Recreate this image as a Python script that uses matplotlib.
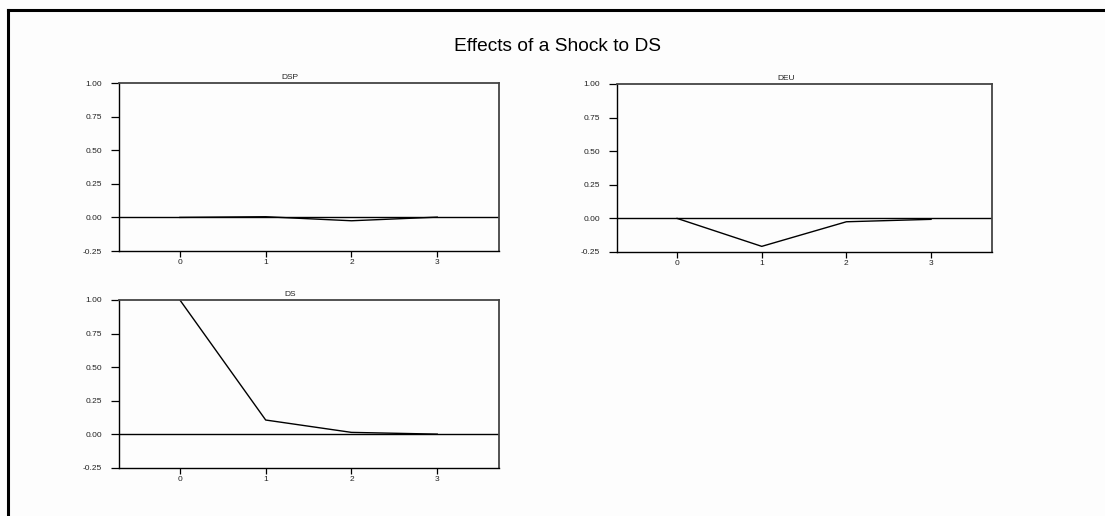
import matplotlib
matplotlib.use("Agg")
import matplotlib.pyplot as plt
from matplotlib.lines import Line2D

plt.rcParams['font.family'] = ['Liberation Sans', 'DejaVu Sans']

# Impulse responses to a shock in DS
steps = [0, 1, 2, 3]
dsp = [0.0, 0.005, -0.025, 0.002]
deu = [0.0, -0.208, -0.025, -0.007]
ds = [1.0, 0.107, 0.015, 0.002]

panel_titles = ["DSP", "DEU", "DS"]
y_ticks = [-0.25, 0.0, 0.25, 0.5, 0.75, 1.0]
y_tick_labels = ["-0.25", "0.00", "0.25", "0.50", "0.75", "1.00"]
x_tick_labels = ["0", "1", "2", "3"]
main_title = "Effects of a Shock to DS"

W, H = 1105, 516
fig = plt.figure(figsize=(W / 100, H / 100), dpi=100)
fig.patch.set_facecolor("#fdfdfd")


def px_rect(left, top, right, bottom):
    return [left / W, 1 - bottom / H, (right - left) / W, (bottom - top) / H]


panels = [
    (px_rect(119, 83, 499, 251), dsp, panel_titles[0]),
    (px_rect(617, 84, 992, 252), deu, panel_titles[1]),
    (px_rect(119, 300, 499, 468), ds, panel_titles[2]),
]

label_size = 6.0

for rect, values, name in panels:
    ax = fig.add_axes(rect)
    ax.set_facecolor("none")
    ax.plot(steps, values, color="black", lw=1.0)
    ax.axhline(0, color="black", lw=1.0)
    ax.set_xlim(-0.71, 3.72)
    ax.set_ylim(-0.25, 1.0)
    ax.set_xticks(steps)
    ax.set_xticklabels(x_tick_labels)
    ax.set_yticks(y_ticks)
    ax.set_yticklabels(y_tick_labels)
    ax.tick_params(axis="y", direction="out", length=6, width=0.9, pad=6,
                   labelsize=label_size, colors="black", labelcolor="#222222")
    ax.tick_params(axis="x", direction="out", length=4, width=0.9, pad=2,
                   labelsize=label_size, colors="black", labelcolor="#222222")
    for side in ("left", "bottom"):
        ax.spines[side].set_color("black")
        ax.spines[side].set_linewidth(1.0)
    for side in ("top", "right"):
        ax.spines[side].set_color("#444444")
        ax.spines[side].set_linewidth(1.3)
    ax.text(0.45, 1.012, name, transform=ax.transAxes, ha="center",
            va="bottom", fontsize=label_size, color="#222222")

fig.text(558 / W, 1 - 47 / H, main_title, ha="center", va="center",
         fontsize=13.8, color="black")

# Outer frame (top and left edges)
fig.add_artist(Line2D([8 / W, 1.0], [1 - 10 / H, 1 - 10 / H],
                      transform=fig.transFigure, color="black", lw=2.2))
fig.add_artist(Line2D([8 / W, 8 / W], [0.0, 1 - 10 / H],
                      transform=fig.transFigure, color="black", lw=2.2))

fig.savefig("out.png", dpi=100, facecolor=fig.get_facecolor())
